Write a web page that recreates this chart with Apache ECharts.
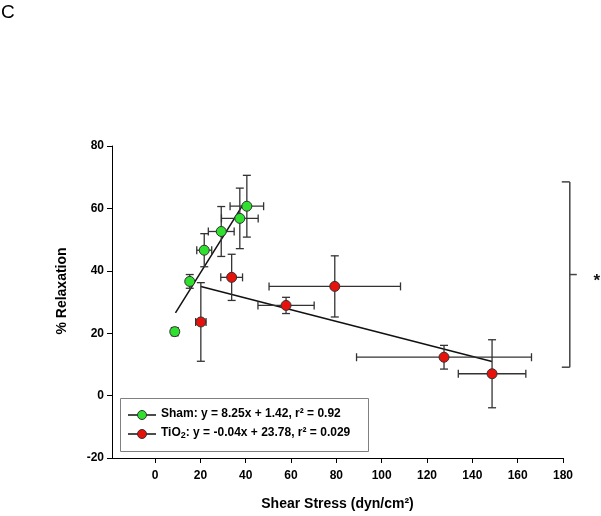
<!DOCTYPE html>
<html><head><meta charset="utf-8">
<script src="https://cdn.jsdelivr.net/npm/echarts@6/dist/echarts.min.js"></script>
<style>html,body{margin:0;padding:0;background:#fff}#c{width:601px;height:516px}</style>
</head><body><div id="c"></div>
<script>
// ---- data ----
const shamX    = [8.7, 15.3, 21.7, 29.2, 37.4, 40.5];
const shamY    = [20.5, 36.6, 46.6, 52.6, 56.8, 60.7];
const shamXErr = [0.6, 1.0, 3.3, 5.7, 8.1, 7.4];
const shamYErr = [1.3, 2.2, 5.3, 8.0, 9.7, 9.9];

const tioX    = [20.2, 33.8, 57.8, 79.3, 127.5, 148.7];
const tioY    = [23.6, 37.9, 28.9, 35.0, 12.3, 7.0];
const tioXErr = [2.3, 4.8, 12.4, 29.0, 38.6, 14.9];
const tioYErr = [12.6, 7.4, 2.6, 9.8, 3.8, 10.9];

const shamFitX = [9.0, 38.6];
const shamFitY = [26.5, 61.0];
const tioFitX  = [20.2, 148.7];
const tioFitY  = [35.0, 10.9];

// significance bracket: x, top, bottom, middle (data units)
const bracketX = 183;
const bracketTop = 68.5;
const bracketBottom = 9.1;
const bracketMid = 38.8;

const xTicks = [0, 20, 40, 60, 80, 100, 120, 140, 160, 180];
const yTicks = [-20, 0, 20, 40, 60, 80];

const shamLabel = 'Sham: y = 8.25x + 1.42, r\u00B2 = 0.92';
const tioLabelA = 'TiO';
const tioLabelB = ': y = -0.04x + 23.78, r\u00B2 = 0.029';

// ---- helpers ----
const FONT = '"Liberation Sans", Arial, Helvetica, sans-serif';
const GREEN = '#2fe02f';
const RED = '#e8120c';

function pairs(xs, ys) { return xs.map((x, i) => [x, ys[i]]); }
function errRows(xs, ys, xe, ye) { return xs.map((x, i) => [x, ys[i], xe[i], ye[i]]); }

function renderErr(params, api) {
  const x = api.value(0), y = api.value(1), xe = api.value(2), ye = api.value(3);
  const c = api.coord([x, y]);
  const l = api.coord([x - xe, y]);
  const r = api.coord([x + xe, y]);
  const t = api.coord([x, y + ye]);
  const b = api.coord([x, y - ye]);
  const cap = 4;
  const st = { stroke: '#333', lineWidth: 1.3, fill: null };
  const ln = (x1, y1, x2, y2) => ({ type: 'line', shape: { x1, y1, x2, y2 }, style: st });
  return {
    type: 'group',
    children: [
      ln(l[0], c[1], r[0], c[1]),
      ln(l[0], c[1] - cap, l[0], c[1] + cap),
      ln(r[0], c[1] - cap, r[0], c[1] + cap),
      ln(c[0], t[1], c[0], b[1]),
      ln(c[0] - cap, t[1], c[0] + cap, t[1]),
      ln(c[0] - cap, b[1], c[0] + cap, b[1])
    ]
  };
}

function renderBracket(params, api) {
  const top = api.coord([api.value(0), api.value(1)]);
  const bot = api.coord([api.value(0), api.value(2)]);
  const mid = api.coord([api.value(0), api.value(3)]);
  const st = { stroke: '#444', lineWidth: 1.5, fill: null };
  const ln = (x1, y1, x2, y2) => ({ type: 'line', shape: { x1, y1, x2, y2 }, style: st });
  return {
    type: 'group',
    children: [
      ln(top[0], top[1], bot[0], bot[1]),
      ln(top[0] - 8, top[1], top[0], top[1]),
      ln(bot[0] - 8, bot[1], bot[0], bot[1]),
      ln(mid[0], mid[1], mid[0] + 7, mid[1]),
      { type: 'text', x: mid[0] + 27, y: mid[1] + 7,
        style: { text: '*', font: 'bold 17px ' + FONT, fill: '#111', align: 'center', verticalAlign: 'middle' } }
    ]
  };
}

const chart = echarts.init(document.getElementById('c'), null, { renderer: 'canvas' });

const axisLabelStyle = { color: '#000', fontFamily: FONT, fontWeight: 'bold', fontSize: 12 };

chart.setOption({
  animation: false,
  backgroundColor: '#fff',
  grid: { left: 112, right: 38, top: 146, bottom: 56 },
  xAxis: {
    type: 'value', min: -19, max: 180,
    name: 'Shear Stress (dyn/cm\u00B2)', nameLocation: 'middle', nameGap: 39,
    nameTextStyle: { color: '#000', fontFamily: FONT, fontWeight: 'bold', fontSize: 14 },
    axisLine: { show: true, onZero: false, lineStyle: { color: '#000', width: 1 } },
    axisTick: { show: true, length: 5, customValues: xTicks, lineStyle: { color: '#000' } },
    axisLabel: Object.assign({ customValues: xTicks, margin: 12 }, axisLabelStyle),
    splitLine: { show: false }
  },
  yAxis: {
    type: 'value', min: -20, max: 80, interval: 20,
    name: '% Relaxation', nameLocation: 'middle', nameGap: 43,
    nameTextStyle: { color: '#000', fontFamily: FONT, fontWeight: 'bold', fontSize: 14, padding: [0, 0, 0, 22] },
    axisLine: { show: true, onZero: false, lineStyle: { color: '#000', width: 1 } },
    axisTick: { show: true, length: 5, lineStyle: { color: '#000' } },
    axisLabel: Object.assign({ margin: 8 }, axisLabelStyle),
    splitLine: { show: false }
  },
  series: [
    { type: 'line', data: pairs(shamFitX, shamFitY), showSymbol: false, z: 2,
      lineStyle: { color: '#111', width: 1.5 }, silent: true },
    { type: 'line', data: pairs(tioFitX, tioFitY), showSymbol: false, z: 2,
      lineStyle: { color: '#111', width: 1.5 }, silent: true },
    { type: 'custom', renderItem: renderErr, data: errRows(shamX, shamY, shamXErr, shamYErr), z: 3, silent: true },
    { type: 'custom', renderItem: renderErr, data: errRows(tioX, tioY, tioXErr, tioYErr), z: 3, silent: true },
    { type: 'scatter', name: 'Sham', data: pairs(shamX, shamY), symbolSize: 10, z: 5,
      itemStyle: { color: GREEN, borderColor: '#333', borderWidth: 1, opacity: 1 } },
    { type: 'scatter', name: 'TiO2', data: pairs(tioX, tioY), symbolSize: 10, z: 5,
      itemStyle: { color: RED, borderColor: '#333', borderWidth: 1, opacity: 1 } },
    { type: 'custom', renderItem: renderBracket, clip: false, z: 4, silent: true,
      data: [[bracketX, bracketTop, bracketBottom, bracketMid]] }
  ],
  graphic: [
    { type: 'text', left: 1, top: 3,
      style: { text: 'C', font: 'normal 19px ' + FONT, fill: '#000' } },
    { type: 'rect', left: 120, top: 398, z: 10,
      shape: { width: 248, height: 53 },
      style: { fill: '#fff', stroke: '#808080', lineWidth: 1 } },
    { type: 'line', z: 11, shape: { x1: 128, y1: 415, x2: 156, y2: 415 }, style: { stroke: '#111', lineWidth: 1.5 } },
    { type: 'circle', z: 12, shape: { cx: 142, cy: 415, r: 4.5 }, style: { fill: GREEN, stroke: '#333', lineWidth: 1 } },
    { type: 'line', z: 11, shape: { x1: 128, y1: 434, x2: 156, y2: 434 }, style: { stroke: '#111', lineWidth: 1.5 } },
    { type: 'circle', z: 12, shape: { cx: 142, cy: 434, r: 4.5 }, style: { fill: RED, stroke: '#333', lineWidth: 1 } },
    { type: 'text', z: 12, left: 161, top: 408,
      style: { text: shamLabel, font: 'bold 12px ' + FONT, fill: '#000' } },
    { type: 'text', z: 12, left: 161, top: 427,
      style: { text: tioLabelA + '{s|2}' + tioLabelB, font: 'bold 12px ' + FONT, fill: '#000',
        rich: { s: { fontSize: 9, fontWeight: 'bold', fontFamily: FONT, padding: [6, 0, 0, 0], fill: '#000' } } } }
  ]
});
</script>
</body></html>
